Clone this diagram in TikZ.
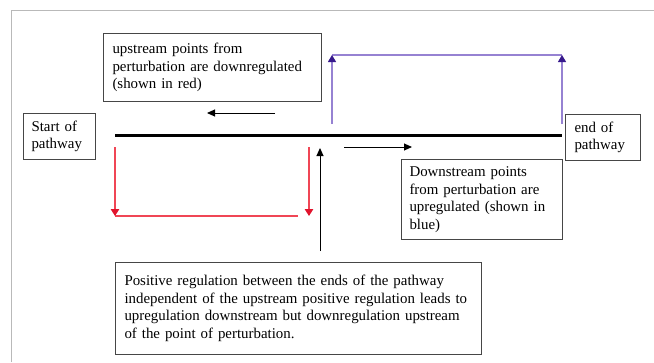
\documentclass[tikz,border=0pt]{standalone}
\usepackage{fontspec}
\setmainfont{Liberation Serif}
\usetikzlibrary{arrows.meta}
\definecolor{boxgray}{RGB}{70,70,70}
\definecolor{framegray}{RGB}{185,185,185}
\definecolor{redline}{RGB}{240,70,85}
\definecolor{redtip}{RGB}{225,20,45}
\definecolor{blueline}{RGB}{150,130,210}
\definecolor{bluetip}{RGB}{55,25,140}
\begin{document}
\begin{tikzpicture}[x=1pt,y=-1pt,
  box/.style={draw=boxgray, line width=1pt, align=left, inner xsep=9pt, inner ysep=0pt,
    font=\fontsize{14.9}{17.6}\selectfont, anchor=north west},
  blkarrow/.style={line width=1pt, -{Triangle[length=8pt,width=7pt]}},
  redarrow/.style={draw=redline, line width=1.1pt, -{Triangle[length=7pt,width=8.5pt,color=redtip]}},
  bluearrow/.style={draw=blueline, line width=1.1pt, -{Triangle[length=7pt,width=8pt,color=bluetip]}},
  redl/.style={draw=redline, line width=1.1pt},
  bluel/.style={draw=blueline, line width=1.1pt},
  mainline/.style={line width=3pt}
]
\useasboundingbox (0,0) rectangle (654,362);
\fill[white] (0,0) rectangle (654,362);
\draw[framegray, line width=1pt] (11,362) -- (11,10) -- (654,10);

\node[box, minimum width=218pt, minimum height=68pt, text width=200pt] (up) at (103,33)
  {upstream points from\\ perturbation are downregulated\\ (shown in red)};
\node[box, minimum width=72pt, minimum height=46pt, text width=56pt, inner xsep=8pt] (start) at (23,113)
  {Start of\\ pathway};
\node[box, minimum width=75pt, minimum height=46pt, text width=57pt] (end) at (565,114)
  {end of\\ pathway};
\node[box, minimum width=161pt, minimum height=80pt, text width=145pt, inner xsep=8pt] (down) at (401,159)
  {Downstream points\\ from perturbation are\\ upregulated (shown in\\ blue)};
\node[box, minimum width=366pt, minimum height=92pt, text width=348pt] (bottom) at (115,262)
  {Positive regulation between the ends of the pathway\\ independent of the upstream positive regulation leads to\\ upregulation downstream but downregulation upstream\\ of the point of perturbation.};

% main pathway line
\coordinate (ms) at (115,135);
\coordinate (me) at (562,135);
\draw[mainline] (ms) -- (me);

% direction arrows
\coordinate (la1) at (275,113);
\coordinate (la2) at (207,113);
\draw[blkarrow] (la1) -- (la2);
\coordinate (ra1) at (344,147);
\coordinate (ra2) at (412,147);
\draw[blkarrow] (ra1) -- (ra2);

% perturbation arrow
\coordinate (pa) at (320,148);
\coordinate (pb) at (320,251);
\draw[blkarrow] (pb) -- (pa);

% blue (upregulation)
\coordinate (b1s) at (332,124);
\coordinate (b1e) at (332,55);
\coordinate (b2s) at (562,124);
\coordinate (b2e) at (562,55);
\draw[bluel] (b1e) -- (b2e);
\draw[bluearrow] (b1s) -- (b1e);
\draw[bluearrow] (b2s) -- (b2e);

% red (downregulation)
\coordinate (r1s) at (115,147);
\coordinate (r1e) at (115,216);
\coordinate (r2s) at (309,147);
\coordinate (r2e) at (309,216);
\coordinate (rh) at (298,216);
\draw[redl] (r1e) -- (rh);
\draw[redarrow] (r1s) -- (r1e);
\draw[redarrow] (r2s) -- (r2e);
\end{tikzpicture}
\end{document}
